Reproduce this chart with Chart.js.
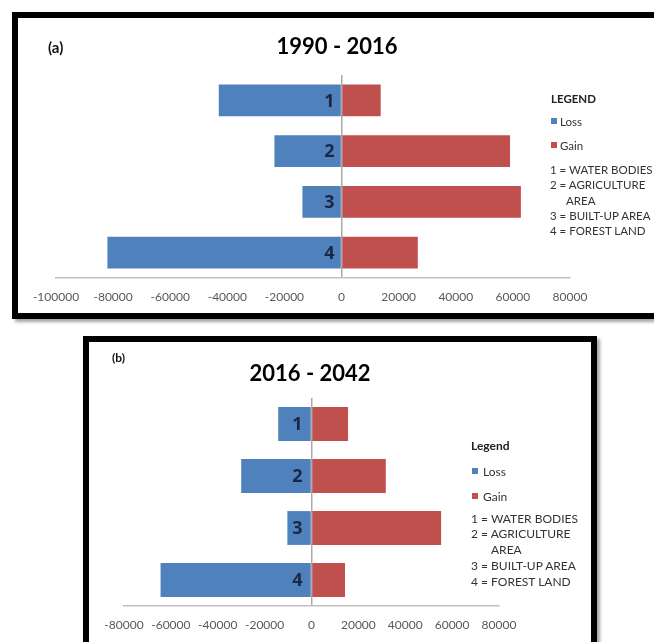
<!DOCTYPE html>
<html>
<head>
<meta charset="utf-8">
<script src="https://cdn.jsdelivr.net/npm/chart.js@4.4.1/dist/chart.umd.min.js"></script>
<style>
  html, body { margin:0; padding:0; background:#fff; width:654px; height:642px; overflow:hidden; }
  body { position:relative; font-family:"Lato", sans-serif; }
  .box { position:absolute; box-sizing:border-box; border:6px solid #000; background:#fff;
         box-shadow: 3px 3px 3px rgba(0,0,0,0.35); }
  canvas { position:absolute; }
  .t { position:absolute; white-space:nowrap; transform:translateY(-50%); line-height:1; }
  .sw { position:absolute; width:6px; height:6px; transform:translateY(-50%); }
</style>
</head>
<body>
<div class="box" id="boxA" style="left:12px; top:12px; width:660px; height:307px;"></div>
<div class="box" id="boxB" style="left:83px; top:336px; width:514px; height:330px;"></div>
<canvas id="chartA" width="654" height="320" style="left:0; top:0; width:654px; height:320px;"></canvas>
<canvas id="chartB" width="654" height="312" style="left:0; top:330px; width:654px; height:312px;"></canvas>
<div id="overlay"></div>
<script>
// ---------- data ----------
const categories = ['1', '2', '3', '4'];
const seriesNames = ['Loss', 'Gain'];
const seriesColors = ['#4F81BD', '#C0504D'];

const lossA = [-43000, -23500, -13700, -82000];
const gainA = [13700, 59000, 62800, 26700];
const ticksA = [-100000, -80000, -60000, -40000, -20000, 0, 20000, 40000, 60000, 80000];

const lossB = [-14200, -30000, -10300, -64400];
const gainB = [15600, 31700, 55300, 14300];
const ticksB = [-80000, -60000, -40000, -20000, 0, 20000, 40000, 60000, 80000];

const titleA = '1990 - 2016';
const titleB = '2016 - 2042';
const panelA = '(a)';
const panelB = '(b)';
const legendHeadA = 'LEGEND';
const legendHeadB = 'Legend';
const keyLines = ['1 = WATER BODIES', '2 = AGRICULTURE', 'AREA', '3 = BUILT-UP AREA', '4 = FOREST LAND'];

// ---------- helpers ----------
const overlay = document.getElementById('overlay');
function text(str, x, y, style) {
  const d = document.createElement('div');
  d.className = 't';
  d.textContent = str;
  d.style.left = x + 'px';
  d.style.top = y + 'px';
  Object.assign(d.style, style || {});
  overlay.appendChild(d);
  return d;
}
function swatch(color, x, y) {
  const d = document.createElement('div');
  d.className = 'sw';
  d.style.left = x + 'px';
  d.style.top = y + 'px';
  d.style.background = color;
  overlay.appendChild(d);
}

const barNumbers = {
  id: 'barNumbers',
  afterDatasetsDraw(chart, args, opts) {
    const { ctx, scales: { x, y } } = chart;
    ctx.save();
    ctx.font = 'bold 18px "Open Sans", "DejaVu Sans", sans-serif';
    ctx.fillStyle = '#1B2743';
    ctx.textAlign = 'right';
    ctx.textBaseline = 'middle';
    chart.data.labels.forEach((l, i) => {
      ctx.fillText(l, x.getPixelForValue(0) - opts.gap, y.getPixelForValue(i) + 1);
    });
    ctx.restore();
  }
};

function makeChart(id, loss, gain, ticks, pad, catPct, gap) {
  return new Chart(document.getElementById(id), {
    type: 'bar',
    data: {
      labels: categories,
      datasets: [
        { label: seriesNames[0], data: loss, backgroundColor: seriesColors[0], borderWidth: 0 },
        { label: seriesNames[1], data: gain, backgroundColor: seriesColors[1], borderWidth: 0 }
      ]
    },
    options: {
      indexAxis: 'y',
      responsive: false,
      animation: false,
      devicePixelRatio: 1,
      datasets: { bar: { barPercentage: 1, categoryPercentage: catPct } },
      layout: { padding: pad },
      plugins: { legend: { display: false }, title: { display: false }, tooltip: { enabled: false }, barNumbers: { gap: gap } },
      scales: {
        x: {
          stacked: true,
          min: ticks[0],
          max: ticks[ticks.length - 1],
          afterBuildTicks: (s) => { s.ticks = ticks.map(v => ({ value: v })); },
          afterFit: (s) => { s.height = 30; },
          ticks: {
            autoSkip: false, maxRotation: 0, padding: 12,
            color: '#595959',
            font: { family: 'Lato', size: 12 },
            callback: (v) => String(v)
          },
          grid: {
            drawTicks: false,
            lineWidth: 1.5,
            color: (c) => (c.tick && c.tick.value === 0) ? '#A9A9A9' : 'rgba(0,0,0,0)'
          },
          border: { display: true, color: '#BFBFBF', width: 1.5 }
        },
        y: { stacked: true, display: false }
      }
    },
    plugins: [barNumbers]
  });
}

function build() {
  // chart A: plot area x 56..570, y 75..278 ; canvas 654x320
  makeChart('chartA', lossA, gainA, ticksA, { left: 56, right: 84, top: 75, bottom: 12 }, 0.63, 7);
  // chart B: plot area x 124..499, y 398..606 ; canvas at top 330, 654x312
  makeChart('chartB', lossB, gainB, ticksB, { left: 124, right: 155, top: 68, bottom: 6 }, 0.65, 9);

  // titles and panel labels
  const tA = text(titleA, 337, 45, { font: 'bold 22px Lato', color: '#000' });
  tA.style.transform = 'translate(-50%,-50%)';
  const tB = text(titleB, 310, 372, { font: 'bold 22px Lato', color: '#000' });
  tB.style.transform = 'translate(-50%,-50%)';
  text(panelA, 48, 47, { font: 'bold 15px Lato', color: '#111' });
  text(panelB, 112, 357, { font: 'bold 12px Lato', color: '#111' });

  // legend A
  const lc = '#333333';
  const fA = '11.5px Lato';
  text(legendHeadA, 551, 98, { font: 'bold 11.5px Lato', color: '#222' });
  swatch(seriesColors[0], 551, 121); text(seriesNames[0], 560, 121, { font: fA, color: lc });
  swatch(seriesColors[1], 551, 145); text(seriesNames[1], 560, 145, { font: fA, color: lc });
  const yA = [169, 184, 200, 215, 230];
  keyLines.forEach((s, i) => text(s, i === 2 ? 566 : 550, yA[i], { font: fA, color: lc }));

  // legend B
  const fB = '12px Lato';
  text(legendHeadB, 471, 445, { font: 'bold 12px Lato', color: '#222' });
  swatch(seriesColors[0], 472, 471); text(seriesNames[0], 483, 471, { font: fB, color: lc });
  swatch(seriesColors[1], 472, 496); text(seriesNames[1], 483, 496, { font: fB, color: lc });
  const yB = [518, 533, 549, 565, 581];
  keyLines.forEach((s, i) => text(s, i === 2 ? 491 : 471, yB[i], { font: fB, color: lc }));
}

if (document.fonts && document.fonts.load) {
  Promise.all([document.fonts.load('12px Lato'), document.fonts.load('bold 18px "Open Sans"')]).then(build, build);
} else { build(); }
</script>
</body>
</html>
